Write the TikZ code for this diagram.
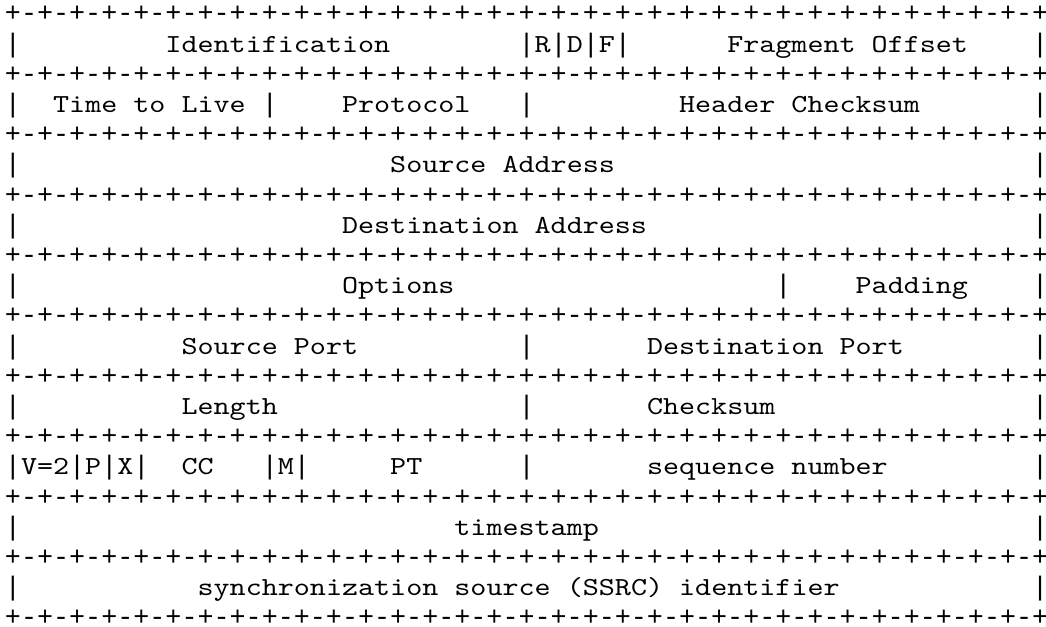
\documentclass[tikz,border=0pt]{standalone}
\usepackage{fontspec}
\setmonofont{lmmono10-regular}[Extension=.otf, FakeStretch=1.176]
\newfontfamily\rulefont{Liberation Mono}
\tikzset{bits/.style={font=\ttfamily\fontsize{13pt}{15pt}\selectfont,
      anchor=base west, inner sep=0pt, outer sep=0pt}}
\tikzset{rule/.style={bits, font=\rulefont\fontsize{13.375pt}{15pt}\selectfont}}
\newcommand{\sepline}{+-+-+-+-+-+-+-+-+-+-+-+-+-+-+-+-+-+-+-+-+-+-+-+-+-+-+-+-+-+-+-+-+}

\begin{document}
\begin{tikzpicture}[x=8.025pt,y=-15.1pt]
    \useasboundingbox (-0.3115,-0.722) rectangle (64.86,20.007);
    \foreach \r in {0,2,...,20}
        \node[rule] (sep\r) at (0,\r) {\sepline};

    \foreach \c in {0,32,34,36,38,64} \node[rule] (bar1c\c) at (\c,1) {|};
    \node[bits] (ident) at (10,1) {Identification};
    \node[bits] (flagr) at (33,1) {R};
    \node[bits] (flagd) at (35,1) {D};
    \node[bits] (flagf) at (37,1) {F};
    \node[bits] (fragoff) at (45,1) {Fragment Offset};

    \foreach \c in {0,16,32,64} \node[rule] (bar3c\c) at (\c,3) {|};
    \node[bits] (ttl) at (3,3) {Time to Live};
    \node[bits] (proto) at (21,3) {Protocol};
    \node[bits] (hdrsum) at (42,3) {Header Checksum};

    \foreach \c in {0,64} \node[rule] (bar5c\c) at (\c,5) {|};
    \node[bits] (srcaddr) at (24,5) {Source Address};

    \foreach \c in {0,64} \node[rule] (bar7c\c) at (\c,7) {|};
    \node[bits] (dstaddr) at (21,7) {Destination Address};

    \foreach \c in {0,48,64} \node[rule] (bar9c\c) at (\c,9) {|};
    \node[bits] (opts) at (21,9) {Options};
    \node[bits] (pad) at (53,9) {Padding};

    \foreach \c in {0,32,64} \node[rule] (bar11c\c) at (\c,11) {|};
    \node[bits] (srcport) at (11,11) {Source Port};
    \node[bits] (dstport) at (40,11) {Destination Port};

    \foreach \c in {0,32,64} \node[rule] (bar13c\c) at (\c,13) {|};
    \node[bits] (len) at (11,13) {Length};
    \node[bits] (udpsum) at (40,13) {Checksum};

    \foreach \c in {0,4,6,8,16,18,32,64} \node[rule] (bar15c\c) at (\c,15) {|};
    \node[bits] (ver) at (1,15) {V=2};
    \node[bits] (padbit) at (5,15) {P};
    \node[bits] (ext) at (7,15) {X};
    \node[bits] (cc) at (11,15) {CC};
    \node[bits] (mark) at (17,15) {M};
    \node[bits] (ptype) at (24,15) {PT};
    \node[bits] (seqnum) at (40,15) {sequence number};

    \foreach \c in {0,64} \node[rule] (bar17c\c) at (\c,17) {|};
    \node[bits] (tstamp) at (28,17) {timestamp};

    \foreach \c in {0,64} \node[rule] (bar19c\c) at (\c,19) {|};
    \node[bits] (ssrc) at (12,19) {synchronization source (SSRC) identifier};
\end{tikzpicture}
\end{document}
